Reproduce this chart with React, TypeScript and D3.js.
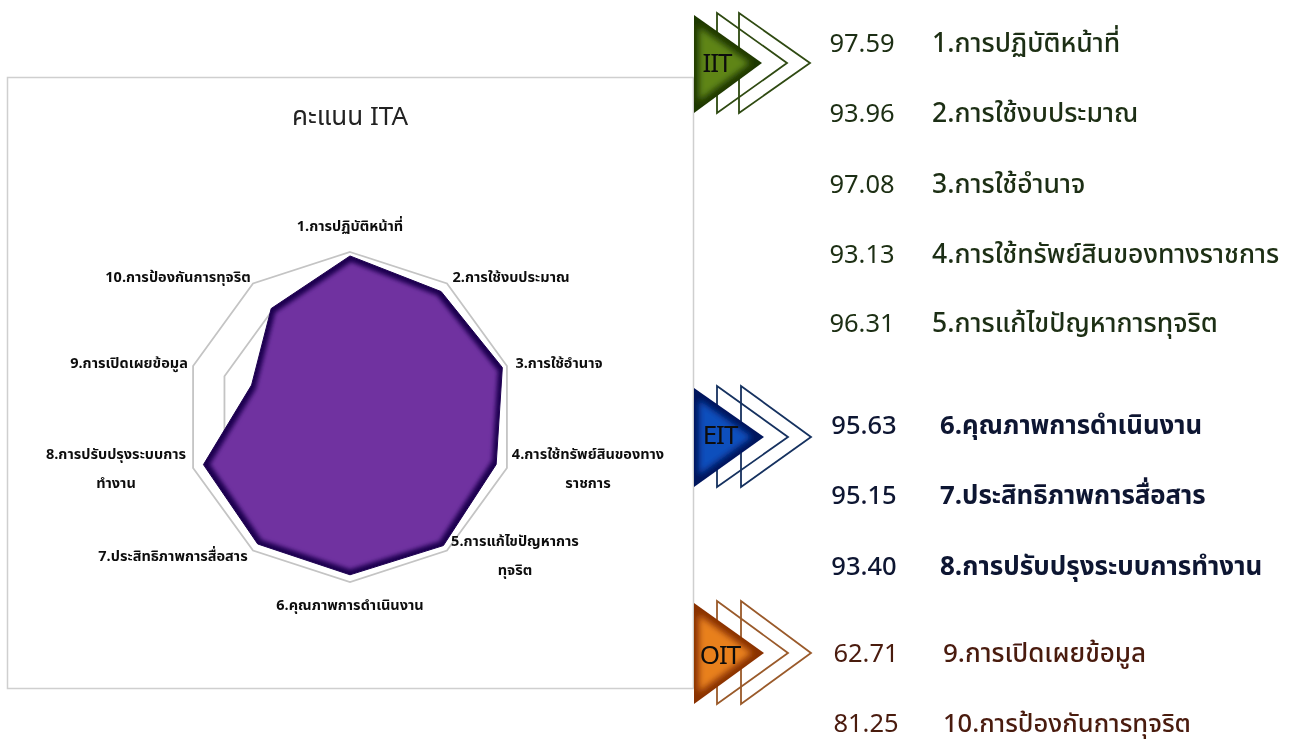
import React from "react";
import * as d3 from "d3";

const axisLabels: string[][] = [
  ["1.การปฏิบัติหน้าที่"],
  ["2.การใช้งบประมาณ"],
  ["3.การใช้อำนาจ"],
  ["4.การใช้ทรัพย์สินของทาง", "ราชการ"],
  ["5.การแก้ไขปัญหาการ", "ทุจริต"],
  ["6.คุณภาพการดำเนินงาน"],
  ["7.ประสิทธิภาพการสื่อสาร"],
  ["8.การปรับปรุงระบบการ", "ทำงาน"],
  ["9.การเปิดเผยข้อมูล"],
  ["10.การป้องกันการทุจริต"],
];
const scores = [97.59, 93.96, 97.08, 93.13, 96.31, 95.63, 95.15, 93.4, 62.71, 81.25];
const scoreText = ["97.59", "93.96", "97.08", "93.13", "96.31", "95.63", "95.15", "93.40", "62.71", "81.25"];
const rowNames = [
  "1.การปฏิบัติหน้าที่",
  "2.การใช้งบประมาณ",
  "3.การใช้อำนาจ",
  "4.การใช้ทรัพย์สินของทางราชการ",
  "5.การแก้ไขปัญหาการทุจริต",
  "6.คุณภาพการดำเนินงาน",
  "7.ประสิทธิภาพการสื่อสาร",
  "8.การปรับปรุงระบบการทำงาน",
  "9.การเปิดเผยข้อมูล",
  "10.การป้องกันการทุจริต",
];
const gridLevels = [80, 100];
const title = "คะแนน ITA";

// layout only
const labelCentres: [number, number][] = [
  [350, 227], [511, 278], [559, 364], [588, 455], [515, 542],
  [350, 606], [173, 557], [116, 455], [129, 364], [178, 278],
];
const rowY = [44, 114, 185, 255, 324, 426, 496, 567, 654, 724];
const rowValueX = [862, 862, 862, 862, 862, 864, 864, 864, 866, 866];
const rowNameX = [932, 932, 932, 932, 932, 940, 940, 940, 943, 943];
const rowNameSize = [26.5, 26.5, 26.5, 26.5, 26.5, 25.8, 25.8, 26, 26, 25.5];
const rowValueSize = [25.5, 25.5, 25.5, 25.5, 25.5, 25.5, 25.5, 25.5, 25.5, 25.5];
const rowColor = ["#1d2f12", "#1d2f12", "#1d2f12", "#1d2f12", "#1d2f12", "#0d1430", "#0d1430", "#0d1430", "#4a1a10", "#4a1a10"];
const groups = [
  { name: "IIT", top: 15, bot: 113, mid: 63, tip: 762, a: 717, at: 787, b: 739, bt: 810, tx: 717, ty: 64, c0: "#5f8519", c1: "#1f3805", line: "#2f4a12" },
  { name: "EIT", top: 388, bot: 487, mid: 437, tip: 764, a: 717, at: 788, b: 741, bt: 811, tx: 720, ty: 436, c0: "#0c50bd", c1: "#04145c", line: "#14305f" },
  { name: "OIT", top: 603, bot: 704, mid: 653, tip: 764, a: 717, at: 788, b: 741, bt: 811, tx: 720, ty: 656, c0: "#e8801f", c1: "#8a3200", line: "#9a5a2a" },
];

const cx = 350;
const cy = 417;
const R = 165;
const thaiFont = "'Noto Sans Thai', 'Noto Sans', 'DejaVu Sans', 'Liberation Sans', sans-serif";

export default function App() {
  const r = d3.scaleLinear().domain([0, 100]).range([0, R]);
  const angle = d3.scalePoint<number>().domain(d3.range(11)).range([0, 2 * Math.PI]);
  const radial = d3
    .lineRadial<number>()
    .angle((_, i) => angle(i) as number)
    .radius((d) => r(d))
    .curve(d3.curveLinearClosed);
  const shape = radial(scores) as string;

  return (
    <svg width={1298} height={742} style={{ position: "absolute", left: 0, top: 0, background: "#fff" }} fontFamily={thaiFont}>
      <defs>
        <filter id="soft" x="-5%" y="-5%" width="110%" height="110%">
          <feGaussianBlur stdDeviation="0.5" />
        </filter>
        <filter id="inner" x="-5%" y="-5%" width="110%" height="110%">
          <feMorphology operator="erode" radius="4" />
          <feGaussianBlur stdDeviation="2" />
        </filter>
        <filter id="innerTri" x="-10%" y="-10%" width="120%" height="120%">
          <feMorphology operator="erode" radius="5" />
          <feGaussianBlur stdDeviation="3" />
        </filter>
      </defs>

      <rect x={7.5} y={77.5} width={686} height={611} fill="#fff" stroke="#cfcfcf" strokeWidth={1.5} />
      <g filter="url(#soft)">
        <text x={350} y={125} textAnchor="middle" fontSize={26} fill="#222">{title}</text>
      </g>

      <g transform={`translate(${cx},${cy})`}>
        <g filter="url(#soft)">
          {gridLevels.map((lv) => (
            <path
              key={lv}
              d={radial(scores.map(() => lv)) as string}
              fill="none"
              stroke="#c4c4c4"
              strokeWidth={1.8}
            />
          ))}
        </g>
        <path d={shape} fill="#1e0650" stroke="#1e0650" strokeWidth={1} filter="url(#soft)" />
        <path d={shape} fill="#7030a0" filter="url(#inner)" />
      </g>

      <g filter="url(#soft)">
        {axisLabels.map((lines, i) =>
          lines.map((ln, j) => (
            <text
              key={`${i}-${j}`}
              x={labelCentres[i][0]}
              y={labelCentres[i][1] + j * 29}
              textAnchor="middle"
              dominantBaseline="central"
              fontSize={14.5}
              fontWeight={700}
              fill="#111"
            >
              {ln}
            </text>
          ))
        )}
      </g>

      <g filter="url(#soft)">
        {groups.map((g) => {
          const tri = `M694,${g.top}L${g.tip},${g.mid}L694,${g.bot}Z`;
          return (
            <g key={g.name}>
              <path d={`M${g.b},${g.top - 2}L${g.bt},${g.mid}L${g.b},${g.bot}Z`} fill="none" stroke={g.line} strokeWidth={1.8} />
              <path d={`M${g.a},${g.top - 2}L${g.at},${g.mid}L${g.a},${g.bot}Z`} fill="none" stroke={g.line} strokeWidth={1.8} />
              <path d={tri} fill={g.c1} />
              <path d={tri} fill={g.c0} filter="url(#innerTri)" />
              <text x={g.tx} y={g.ty} textAnchor="middle" dominantBaseline="central" fontSize={26} fill="#0c0c0c" letterSpacing={-1}>
                {g.name}
              </text>
            </g>
          );
        })}

        {scoreText.map((s, i) => (
          <text key={s + i} x={rowValueX[i]} y={rowY[i]} textAnchor="middle" dominantBaseline="central" fontSize={rowValueSize[i]} fontWeight={i >= 5 && i < 8 ? 500 : 400} fill={rowColor[i]}>
            {s}
          </text>
        ))}
        {rowNames.map((n, i) => (
          <text key={n} x={rowNameX[i]} y={rowY[i]} dominantBaseline="central" fontSize={rowNameSize[i]} fontWeight={i >= 5 && i < 8 ? 700 : 500} fill={rowColor[i]}>
            {n}
          </text>
        ))}
      </g>
    </svg>
  );
}
